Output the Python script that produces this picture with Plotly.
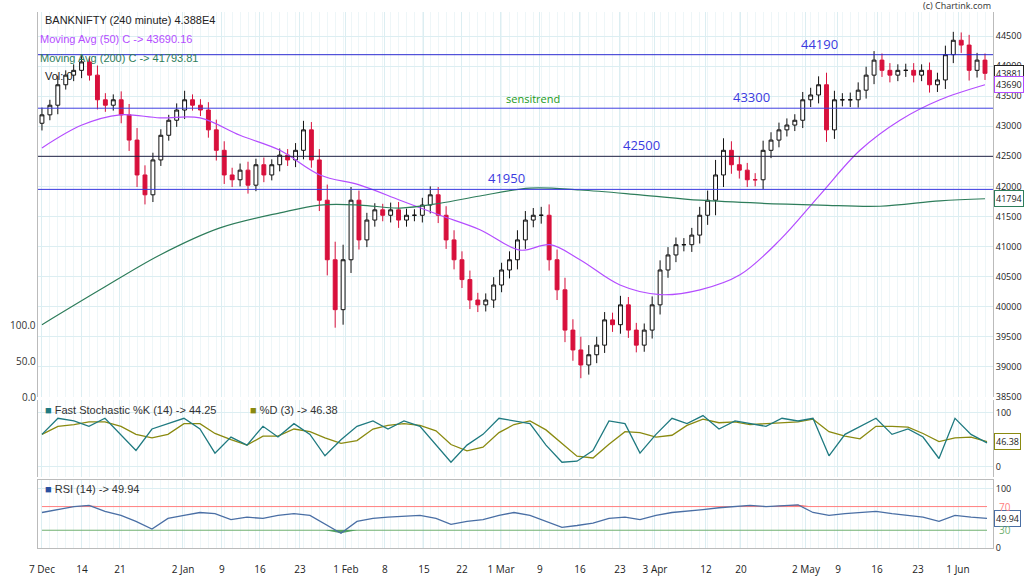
import plotly.graph_objects as go
import numpy as np

closes = [43190,43350,43690,43850,43930,44070,43850,43440,43350,43440,43190,42770,42190,41860,42440,42850,43100,43270,43440,43350,43270,42940,42600,42190,42110,42270,42020,42360,42190,42360,42520,42440,42600,42940,42440,41770,40780,39950,40780,41770,41110,41440,41610,41520,41610,41440,41520,41520,41690,41860,41520,41110,40780,40450,40110,40030,40110,40360,40610,40780,41110,41440,41520,41520,40780,40280,39610,39280,39030,39200,39360,39780,39700,40030,39610,39360,39610,40030,40610,40860,41030,41030,41190,41520,41770,42190,42600,42360,42270,42110,42110,42600,42770,42940,43020,43100,43440,43520,43690,42940,43440,43440,43440,43600,43850,44100,43930,43850,43930,43930,43850,43930,43690,43770,44190,44430,44350,43930,44100,43880]
first_open = 43050
wick = [120,90,150,80,100,130,90,160,110,90,140,180,200,160,120,100,90,110,150,90,100,130,170,150,120,110,140,100,120,90,110,100,120,150,130,180,260,300,250,220,160,120,110,100,120,130,110,100,120,140,130,150,160,140,150,120,110,130,120,140,160,150,120,140,180,170,200,180,220,160,140,130,120,150,130,120,110,140,160,130,120,110,120,140,160,250,200,150,140,120,110,160,130,120,110,100,130,120,140,200,150,110,120,130,140,150,110,120,100,110,120,100,130,120,150,140,130,170,120,110]

ma50_px = [42,82,120,160,200,240,280,320,360,400,440,480,520,550,580,620,660,700,740,780,820,860,900,940,985]
ma50 = [42640,43020,43190,43140,43140,42850,42600,42190,42020,41770,41520,41280,40940,41030,40780,40360,40200,40280,40530,41110,41860,42600,43100,43440,43690]
ma200_px = [42,100,160,220,280,320,360,400,440,480,530,580,640,700,760,820,880,940,985]
ma200 = [39700,40280,40860,41310,41560,41690,41690,41640,41720,41840,41970,41940,41860,41770,41720,41690,41670,41760,41794]

osc_px = [42,58,74,89,105,121,136,152,168,184,200,215,231,247,263,278,294,310,325,341,357,373,388,404,420,436,451,467,483,499,514,530,546,562,577,593,609,625,640,656,672,687,703,719,735,750,766,782,798,813,829,845,860,876,892,908,923,939,955,971,987]
stoch_k = [60,90,85,75,90,60,30,70,80,90,70,25,55,40,75,55,80,60,20,50,75,85,70,85,75,40,8,40,60,90,85,80,40,8,10,30,85,80,25,60,90,80,95,70,85,80,75,90,85,90,20,60,75,90,60,70,55,15,90,60,44.25]
rsi = [60,65,70,72,62,55,45,32,50,55,60,58,48,52,50,55,58,55,40,25,45,50,52,53,55,50,40,45,48,55,60,55,45,35,38,42,50,52,48,55,60,62,65,68,70,72,70,72,73,60,55,58,60,62,58,55,52,45,55,52,49.94]

levels = [44190, 43300, 42500, 41950]
level_colors = ["#2a2ad0", "#4040e0", "#222244", "#3a3ae0"]
level_label_px = [820, 752, 642, 507]

tick_px = [42,82,120,183,222,260,300,346,385,424,462,501,540,580,620,655,706,741,806,838,877,918,958]
tick_text = ["7 Dec","14","21","2 Jan","9","16","23","1 Feb","8","15","22","1 Mar","9","16","23","3 Apr","12","20","2 May","9","16","23","1 Jun"]

n = len(closes)
step = (985 - 42) / (n - 1)
px2i = lambda p: (np.array(p) - 42) / step

opens = [first_open] + closes[:-1]
highs = [max(o, c) + w for o, c, w in zip(opens, closes, wick)]
lows = [min(o, c) - w for o, c, w in zip(opens, closes, wick)]
x = list(range(n))

k = np.array(stoch_k, float)
d = np.convolve(k, np.ones(3) / 3, mode="full")[:len(k)]
d[0] = k[0]; d[1] = (k[0] + k[1]) / 2
d[-1] = 46.38
oi = px2i(osc_px)

fig = go.Figure()
fig.add_trace(go.Candlestick(x=x, open=opens, high=highs, low=lows, close=closes,
    increasing=dict(line=dict(color="#111111", width=1), fillcolor="white"),
    decreasing=dict(line=dict(color="#d8103c", width=1), fillcolor="#d8103c"),
    whiskerwidth=0, xaxis="x", yaxis="y", showlegend=False))
fig.add_trace(go.Scatter(x=px2i(ma50_px), y=ma50, mode="lines", line=dict(color="#b44dff", width=1.2, shape="spline"), xaxis="x", yaxis="y", showlegend=False))
fig.add_trace(go.Scatter(x=px2i(ma200_px), y=ma200, mode="lines", line=dict(color="#2e7d5b", width=1.2, shape="spline"), xaxis="x", yaxis="y", showlegend=False))
fig.add_trace(go.Scatter(x=oi, y=d, mode="lines", line=dict(color="#8a8a10", width=1.3), xaxis="x", yaxis="y2", showlegend=False))
fig.add_trace(go.Scatter(x=oi, y=k, mode="lines", line=dict(color="#1f7a80", width=1.3), xaxis="x", yaxis="y2", showlegend=False))
r = np.array(rsi, float)
fig.add_trace(go.Scatter(x=oi, y=[70]*len(oi), mode="lines", line=dict(color="#ff8080", width=1), xaxis="x", yaxis="y3", showlegend=False))
fig.add_trace(go.Scatter(x=oi, y=np.maximum(r, 70), mode="lines", line=dict(width=0), fill="tonexty", fillcolor="rgba(240,70,70,0.8)", xaxis="x", yaxis="y3", showlegend=False))
fig.add_trace(go.Scatter(x=oi, y=[30]*len(oi), mode="lines", line=dict(color="#70b070", width=1), xaxis="x", yaxis="y3", showlegend=False))
fig.add_trace(go.Scatter(x=oi, y=[30]*len(oi), mode="lines", line=dict(width=0), xaxis="x", yaxis="y3", showlegend=False))
fig.add_trace(go.Scatter(x=oi, y=np.minimum(r, 30), mode="lines", line=dict(width=0), fill="tonexty", fillcolor="rgba(40,140,60,0.8)", xaxis="x", yaxis="y3", showlegend=False))
fig.add_trace(go.Scatter(x=oi, y=r, mode="lines", line=dict(color="#4a6fa5", width=1.3), xaxis="x", yaxis="y3", showlegend=False))

shapes = []
ann = []
for lv, col, lp in zip(levels, level_colors, level_label_px):
    shapes.append(dict(type="line", xref="x domain", yref="y", x0=0, x1=1, y0=lv, y1=lv, line=dict(color=col, width=1)))
    ann.append(dict(x=float(px2i([lp])[0]), y=lv, xref="x", yref="y", text=str(lv), showarrow=False, yanchor="bottom", font=dict(color="#3a3ae0", size=13)))
ann.append(dict(x=float(px2i([533])[0]), y=43300, xref="x", yref="y", text="sensitrend", showarrow=False, yanchor="bottom", font=dict(color="#1a9a1a", size=11)))

f = dict(family="Liberation Sans, Arial", size=11)
ann += [
    dict(xref="paper", yref="paper", x=0.005, y=1.0, text="BANKNIFTY (240 minute) 4.388E4", showarrow=False, xanchor="left", yanchor="top", font=dict(f, color="#222")),
    dict(xref="paper", yref="paper", x=0.0, y=0.965, text="Moving Avg (50) C -> 43690.16", showarrow=False, xanchor="left", yanchor="top", font=dict(f, color="#b44dff")),
    dict(xref="paper", yref="paper", x=0.0, y=0.93, text="Moving Avg (200) C -> 41793.81", showarrow=False, xanchor="left", yanchor="top", font=dict(f, color="#2e7d5b")),
    dict(xref="paper", yref="paper", x=0.005, y=0.895, text="Vol: 0", showarrow=False, xanchor="left", yanchor="top", font=dict(f, color="#222")),
    dict(xref="paper", yref="paper", x=1.0, y=1.0, yshift=-2, text="(c) Chartink.com", showarrow=False, xanchor="right", yanchor="bottom", font=dict(size=9, color="#333")),
    dict(xref="paper", yref="paper", x=0.005, y=0.272, text="<span style='color:#1f7a80'>■</span> Fast Stochastic %K (14) -> 44.25", showarrow=False, xanchor="left", yanchor="top", font=dict(f, color="#333")),
    dict(xref="paper", yref="paper", x=0.22, y=0.272, text="<span style='color:#8a8a10'>■</span> %D (3) -> 46.38", showarrow=False, xanchor="left", yanchor="top", font=dict(f, color="#333")),
    dict(xref="paper", yref="paper", x=0.005, y=0.125, text="<span style='color:#2a4fa0'>■</span> RSI (14) -> 49.94", showarrow=False, xanchor="left", yanchor="top", font=dict(f, color="#333")),
]
for txt, yy in [("100.0", 39700), ("50.0", 39100), ("0.0", 38500)]:
    ann.append(dict(xref="paper", yref="y", x=0, y=yy, text=txt, showarrow=False, xanchor="right", font=dict(size=10, color="#333")))
for txt, yy, col, ref in [("43881", 43881, "#222", "y"), ("43690", 43690, "#b44dff", "y"), ("41794", 41794, "#2e7d5b", "y"), ("46.38", 46.38, "#8a8a10", "y2"), ("49.94", 49.94, "#4a6fa5", "y3")]:
    ann.append(dict(xref="paper", yref=ref, x=1.0, y=yy, text=txt, showarrow=False, xanchor="left", xshift=1, bgcolor="white", bordercolor=col, borderwidth=1, borderpad=1, font=dict(size=9, color="#222")))
for txt, yy, col in [("70", 70, "#ff8080"), ("30", 30, "#70b070")]:
    ann.append(dict(xref="paper", yref="y3", x=1.0, y=yy, text=txt, showarrow=False, xanchor="left", xshift=4, font=dict(size=10, color=col)))

grid = "#dceef2"
ax = dict(showgrid=True, gridcolor=grid, zeroline=False, side="right", showline=True, linecolor="#bbb", mirror=True,
          tickfont=dict(size=9, color="#222"), ticks="", automargin=False, tickformat="d")
fig.update_layout(
    width=1024, height=579, margin=dict(l=38, r=31, t=12, b=31),
    paper_bgcolor="white", plot_bgcolor="white", shapes=shapes, annotations=ann,
    xaxis=dict(range=[-0.5, float(px2i([993])[0])], rangeslider=dict(visible=False), tickvals=list(px2i(tick_px)), ticktext=tick_text,
               showgrid=True, gridcolor=grid, minor=dict(dtick=1, showgrid=True, gridcolor="#eef6f8", tick0=0), showline=True, linecolor="#bbb", mirror=True,
               tickfont=dict(size=10, color="#222"), anchor="y3", zeroline=False, automargin=False, ticks="outside", ticklen=12, tickcolor="white"),
    yaxis=dict(ax, domain=[0.282, 1], range=[38500, 44900], dtick=500, tick0=38500),
    yaxis2=dict(ax, domain=[0.132, 0.277], range=[-20, 125], tickvals=[0, 100], anchor="x"),
    yaxis3=dict(ax, domain=[0, 0.127], range=[0, 115], tickvals=[0, 100], anchor="x"),
)
fig.write_html("out.html", config={"displayModeBar": False}, post_script="document.body.style.margin='0px';document.body.style.overflow='hidden';")
